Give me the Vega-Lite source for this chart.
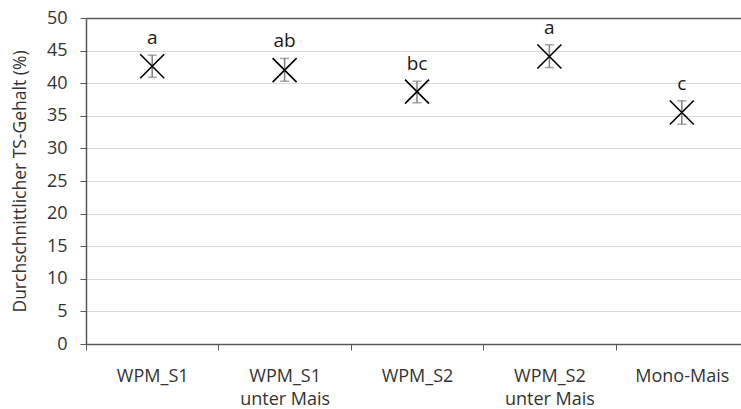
{
  "$schema": "https://vega.github.io/schema/vega-lite/v6.json",
  "width": 655,
  "height": 326,
  "autosize": {"type": "none"},
  "padding": {"left": 86, "top": 18, "right": 0, "bottom": 65},
  "config": {
    "view": {"stroke": null},
    "font": "Open Sans",
    "background": "white",
    "axisY": {
      "titleFontSize": 17.5,
      "titleFontWeight": "normal",
      "titleColor": "#333333",
      "titleX": -66,
      "titleBaseline": "middle",
      "labelOverlap": false,
      "labelFontSize": 18,
      "labelColor": "#333333",
      "labelPadding": 13,
      "tickSize": 6,
      "tickColor": "#595959",
      "domainColor": "#595959",
      "domainWidth": 1.5,
      "grid": true,
      "gridColor": {"condition": {"test": "datum.value == 50", "value": "#595959"}, "value": "#d9d9d9"},
      "gridWidth": {"condition": {"test": "datum.value == 50", "value": 1.5}, "value": 1}
    }
  },
  "data": {
    "values": [
      {"Variante": "WPM_S1", "mean": 42.6, "low": 40.9, "high": 44.3, "sig": "a"},
      {"Variante": "WPM_S1 unter Mais", "mean": 42.0, "low": 40.3, "high": 43.8, "sig": "ab"},
      {"Variante": "WPM_S2", "mean": 38.7, "low": 37.0, "high": 40.3, "sig": "bc"},
      {"Variante": "WPM_S2 unter Mais", "mean": 44.1, "low": 42.4, "high": 45.9, "sig": "a"},
      {"Variante": "Mono-Mais", "mean": 35.5, "low": 33.7, "high": 37.3, "sig": "c"}
    ]
  },
  "encoding": {
    "x": {
      "field": "Variante",
      "type": "nominal",
      "sort": null,
      "scale": {"range": [0, 662], "paddingInner": 0, "paddingOuter": 0},
      "axis": {
        "title": null,
        "labelAngle": 0,
        "labelExpr": "split(replace(datum.label, ' unter', '|unter'), '|')",
        "labelLineHeight": 23,
        "labelFontSize": 18,
        "labelColor": "#333333",
        "labelPadding": 17,
        "tickBand": "extent",
        "tickSize": 6,
        "tickColor": "#595959",
        "domainColor": "#595959",
        "domainWidth": 1.5,
        "grid": false
      }
    }
  },
  "layer": [
    {
      "mark": {"type": "rule", "color": "#7f7f7f", "strokeWidth": 1.5},
      "encoding": {
        "y": {
          "field": "low",
          "type": "quantitative",
          "scale": {"domain": [0, 50], "nice": false},
          "axis": {"title": "Durchschnittlicher TS-Gehalt (%)", "values": [0, 5, 10, 15, 20, 25, 30, 35, 40, 45, 50]}
        },
        "y2": {"field": "high"}
      }
    },
    {
      "mark": {"type": "tick", "color": "#7f7f7f", "thickness": 1.5, "size": 9},
      "encoding": {"y": {"field": "low", "type": "quantitative", "axis": {"title": "Durchschnittlicher TS-Gehalt (%)", "values": [0, 5, 10, 15, 20, 25, 30, 35, 40, 45, 50]}}}
    },
    {
      "mark": {"type": "tick", "color": "#7f7f7f", "thickness": 1.5, "size": 9},
      "encoding": {"y": {"field": "high", "type": "quantitative", "axis": {"title": "Durchschnittlicher TS-Gehalt (%)", "values": [0, 5, 10, 15, 20, 25, 30, 35, 40, 45, 50]}}}
    },
    {
      "mark": {"type": "point", "shape": "M-1,-1L1,1M-1,1L1,-1", "size": 576, "filled": false, "stroke": "#000000", "strokeWidth": 1.6, "opacity": 1},
      "encoding": {"y": {"field": "mean", "type": "quantitative", "axis": {"title": "Durchschnittlicher TS-Gehalt (%)", "values": [0, 5, 10, 15, 20, 25, 30, 35, 40, 45, 50]}}}
    },
    {
      "mark": {"type": "text", "baseline": "alphabetic", "dy": -11, "fontSize": 19, "color": "#1a1a1a"},
      "encoding": {
        "y": {"field": "high", "type": "quantitative", "axis": {"title": "Durchschnittlicher TS-Gehalt (%)", "values": [0, 5, 10, 15, 20, 25, 30, 35, 40, 45, 50]}},
        "text": {"field": "sig"}
      }
    }
  ]
}
